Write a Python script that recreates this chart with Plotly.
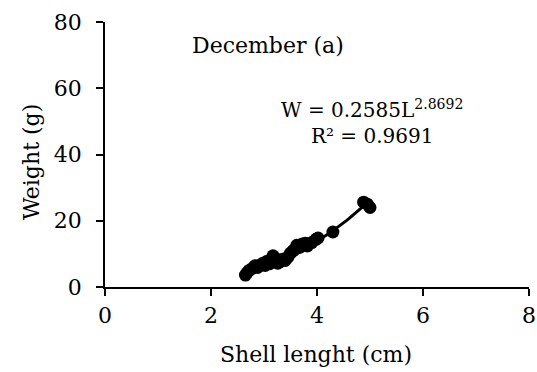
import numpy as np
import plotly.graph_objects as go

# Shell length (cm) and weight (g)
length_cm = [2.65, 2.68, 2.72, 2.78, 2.83, 2.88, 2.92, 2.98, 3.02, 3.06, 3.10, 3.14,
             3.17, 3.20, 3.22, 3.26, 3.30, 3.35, 3.40, 3.45, 3.50, 3.55, 3.60, 3.62,
             3.68, 3.72, 3.78, 3.82, 3.90, 3.98, 4.02, 4.30, 4.88, 4.95, 5.00]
weight_g = [3.6, 4.3, 5.0, 5.6, 6.4, 5.9, 6.6, 7.2, 6.5, 7.8, 7.0, 8.2,
            9.4, 8.8, 7.6, 7.2, 7.6, 8.4, 8.0, 9.0, 10.2, 11.0, 11.6, 12.6,
            12.0, 13.0, 13.2, 12.4, 13.4, 14.4, 14.8, 16.6, 25.6, 25.0, 24.0]

# Fitted power curve shown on chart: W = a * L^b
fit_a = 0.2585
fit_b = 2.8692

x_ticks = [0, 2, 4, 6, 8]
y_ticks = [0, 20, 40, 60, 80]

FONT = "DejaVu Serif"
FS = 22

L, R, T, B = 105, 8, 22, 85
W, H = 537, 372
plot_w = W - L - R
plot_h = H - T - B

def px_to_paper(px, py):
    return (px - L) / plot_w, (H - B - py) / plot_h

fit_x = np.linspace(min(length_cm), max(length_cm), 60)
fit_y = fit_a * fit_x ** fit_b

fig = go.Figure()
fig.add_trace(go.Scatter(x=fit_x, y=fit_y, mode="lines",
                         line=dict(color="black", width=3), showlegend=False,
                         hoverinfo="skip"))
fig.add_trace(go.Scatter(x=length_cm, y=weight_g, mode="markers",
                         marker=dict(color="black", size=13), showlegend=False))

axis_common = dict(showgrid=False, zeroline=False, showline=True, linecolor="black",
                   linewidth=1.5, ticks="outside", ticklen=7, tickwidth=1.5,
                   tickcolor="black", tickfont=dict(family=FONT, size=FS, color="black"),
                   automargin=False)

fig.update_layout(
    width=W, height=H,
    margin=dict(l=L, r=R, t=T, b=B, autoexpand=False),
    paper_bgcolor="white", plot_bgcolor="white",
    font=dict(family=FONT, size=FS, color="black"),
    xaxis=dict(range=[0, 8], tickvals=x_ticks, ticklabelstandoff=1, **axis_common),
    yaxis=dict(range=[0, 80], tickvals=y_ticks, ticklabelstandoff=10, **axis_common),
)

xt = px_to_paper(316, 354)
yt = px_to_paper(31, 162)
dec = px_to_paper(190, 45)
eq = px_to_paper(372, 122)

fig.add_annotation(text="Shell lenght (cm)", x=xt[0], y=xt[1], xref="paper", yref="paper",
                   showarrow=False, xanchor="center", yanchor="middle",
                   font=dict(family=FONT, size=FS, color="black"))
fig.add_annotation(text="Weight (g)", x=yt[0], y=yt[1], xref="paper", yref="paper",
                   textangle=-90, showarrow=False, xanchor="center", yanchor="middle",
                   font=dict(family=FONT, size=FS, color="black"))
fig.add_annotation(text="December (a)", x=dec[0], y=dec[1], xref="paper", yref="paper",
                   xanchor="left", yanchor="middle", showarrow=False,
                   font=dict(family=FONT, size=FS, color="black"))
fig.add_annotation(text="W = 0.2585L<sup>2.8692</sup><br>R² = 0.9691", x=eq[0], y=eq[1],
                   xref="paper", yref="paper", align="center", xanchor="center",
                   yanchor="middle", showarrow=False,
                   font=dict(family=FONT, size=20, color="black"))

fig.write_html("out.html")
